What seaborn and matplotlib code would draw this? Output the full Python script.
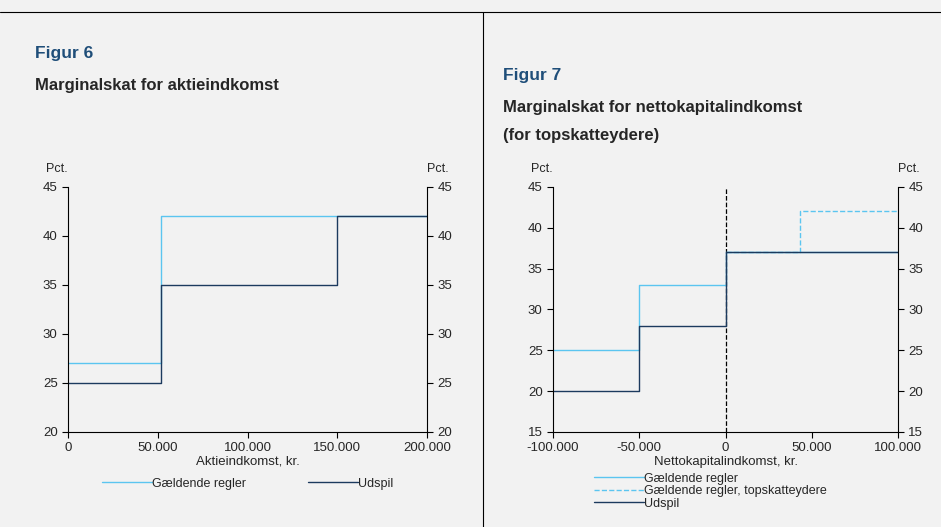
import matplotlib
matplotlib.use("Agg")
import matplotlib.pyplot as plt
import matplotlib.ticker as mticker
import seaborn as sns
import pandas as pd

sns.set_style("white")
plt.rcParams['font.family'] = ['Liberation Sans', 'DejaVu Sans']

LIGHT = '#5bc5f0'
DARK = '#1c3a5e'
BG = '#f2f2f2'

# Figur 6 data
f6_x = [0, 52000, 150000, 200000]
f6_gaeld = [27, 42, 42, 42]
f6_udspil = [25, 35, 42, 42]

# Figur 7 data
f7_x = [-100000, -50000, 0, 43000, 100000]
f7_gaeld = [25, 33, 37, 37, 37]
f7_top = [None, None, 37, 42, 42]
f7_udspil = [20, 28, 37, 37, 37]

fig = plt.figure(figsize=(9.41, 5.27), dpi=100, facecolor=BG)
fig.add_artist(plt.Line2D([0, 1], [1 - 12/527] * 2, color='black', lw=0.8))
fig.add_artist(plt.Line2D([483/941] * 2, [0, 1 - 12/527], color='black', lw=0.8))


def dk(v, pos):
    return f"{v:,.0f}".replace(",", ".")


def style(ax, ylim, yticks):
    ax.set_facecolor(BG)
    ax.set_ylim(*ylim)
    ax.set_yticks(yticks)
    ax.xaxis.set_major_formatter(mticker.FuncFormatter(dk))
    ax.spines['top'].set_visible(False)
    for s in ['left', 'right', 'bottom']:
        ax.spines[s].set_color('black')
        ax.spines[s].set_linewidth(0.8)
    ax.tick_params(direction='out', length=4, labelsize=9.5, color='black',
                   left=True, bottom=True, right=True, labelright=True)
    ax.text(-0.0, 1.06, 'Pct.', transform=ax.transAxes, fontsize=9, ha='right')
    ax.text(1.0, 1.06, 'Pct.', transform=ax.transAxes, fontsize=9, ha='left')


# Left panel
ax1 = fig.add_axes([68/941, 0.1803, 359/941, 0.4649])
d6 = pd.DataFrame({'x': f6_x, 'g': f6_gaeld, 'u': f6_udspil})
sns.lineplot(data=d6, x='x', y='g', drawstyle='steps-post', color=LIGHT, lw=1, ax=ax1, label='Gældende regler')
sns.lineplot(data=d6, x='x', y='u', drawstyle='steps-post', color=DARK, lw=1, ax=ax1, label='Udspil')
ax1.set_xlim(0, 200000)
ax1.set_xticks([0, 50000, 100000, 150000, 200000])
style(ax1, (20, 45), range(20, 46, 5))
ax1.set_xlabel('Aktieindkomst, kr.', fontsize=9.5, labelpad=1)
ax1.set_ylabel('')
ax1.legend(loc='upper center', bbox_to_anchor=(0.5, -0.14), ncol=2, frameon=False,
           fontsize=9, handlelength=4, columnspacing=5, handletextpad=0)

# Right panel
ax2 = fig.add_axes([553/941, 0.1803, 345/941, 0.4649])
d7 = pd.DataFrame({'x': f7_x, 'g': f7_gaeld, 't': f7_top, 'u': f7_udspil})
ax2.axvline(0, color='black', ls='--', lw=0.9)
sns.lineplot(data=d7, x='x', y='g', drawstyle='steps-post', color=LIGHT, lw=1, ax=ax2, label='Gældende regler')
sns.lineplot(data=d7.dropna(), x='x', y='t', drawstyle='steps-post', color=LIGHT, lw=1, ls='--', ax=ax2,
             label='Gældende regler, topskatteydere')
sns.lineplot(data=d7, x='x', y='u', drawstyle='steps-post', color=DARK, lw=1, ax=ax2, label='Udspil')
ax2.set_xlim(-100000, 100000)
ax2.set_xticks([-100000, -50000, 0, 50000, 100000])
style(ax2, (15, 45), range(15, 46, 5))
ax2.set_xlabel('Nettokapitalindkomst, kr.', fontsize=9.5, labelpad=1)
ax2.set_ylabel('')
ax2.legend(loc='upper left', bbox_to_anchor=(0.1, -0.14), ncol=1, frameon=False,
           fontsize=9, handlelength=4, labelspacing=0.05, borderpad=0, handletextpad=0)

# Titles
fig.text(35/941, 1 - 58/527, 'Figur 6', color='#1f4e79', fontsize=12.5, fontweight='bold', va='baseline')
fig.text(35/941, 1 - 90/527, 'Marginalskat for aktieindkomst', fontsize=12, fontweight='bold', va='baseline')
fig.text(503/941, 1 - 80/527, 'Figur 7', color='#1f4e79', fontsize=12.5, fontweight='bold', va='baseline')
fig.text(503/941, 1 - 112/527, 'Marginalskat for nettokapitalindkomst', fontsize=12, fontweight='bold', va='baseline')
fig.text(503/941, 1 - 140/527, '(for topskatteydere)', fontsize=12, fontweight='bold', va='baseline')

fig.savefig('out.png', dpi=100, facecolor=BG)
